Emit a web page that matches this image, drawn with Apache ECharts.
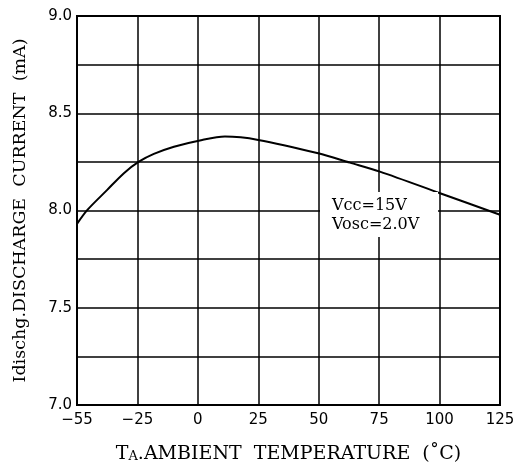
<!DOCTYPE html>
<html>
<head>
<meta charset="utf-8">
<script src="https://cdn.jsdelivr.net/npm/echarts@6/dist/echarts.min.js"></script>
<style>html,body{margin:0;padding:0;background:#fff}#c{width:518px;height:473px}</style>
</head>
<body>
<div id="c"></div>
<script>
// x positions in axis units (first grid division spans -55..-25 but is drawn as -50..-25)
var tempPos = [-50, -45.7, -37.5, -30.6, -24.4, -18.2, -9.9, 1.8, 11.2, 25, 49.8, 62.9, 75.3, 100.2, 125];
var currentMA = [7.931, 8.003, 8.106, 8.192, 8.251, 8.291, 8.328, 8.363, 8.380, 8.363, 8.294, 8.246, 8.200, 8.089, 7.978];
var xTickLabels = ['\u221255', '\u221225', '0', '25', '50', '75', '100', '125'];
var yTickLabels = ['7.0', '', '7.5', '', '8.0', '', '8.5', '', '9.0'];
var noteLines = ['Vcc=15V', 'Vosc=2.0V'];

var chart = echarts.init(document.getElementById('c'), null, {renderer: 'canvas'});
var pts = tempPos.map(function (x, i) { return [x, currentMA[i]]; });
chart.setOption({
  animation: false,
  backgroundColor: '#fff',
  grid: {left: 77, right: 18, top: 16, bottom: 68, show: true, borderColor: '#000', borderWidth: 2, backgroundColor: 'transparent'},
  xAxis: {
    type: 'value', min: -50, max: 125, interval: 25,
    axisLine: {show: false}, axisTick: {show: false},
    splitLine: {show: true, lineStyle: {color: '#000', width: 1.5}},
    axisLabel: {
      showMinLabel: true, showMaxLabel: true, margin: 8,
      fontFamily: 'DejaVu Sans', fontSize: 15, color: '#000',
      formatter: function (v) { return xTickLabels[Math.round((v + 50) / 25)]; }
    },
    name: 'T{s|A}.AMBIENT  TEMPERATURE  (\u02DAC)',
    nameLocation: 'middle', nameGap: 40,
    nameTextStyle: {fontFamily: 'DejaVu Serif', fontSize: 19, color: '#000',
      rich: {s: {fontFamily: 'DejaVu Serif', fontSize: 13, color: '#000', padding: [4, 0, 0, 0]}}}
  },
  yAxis: {
    type: 'value', min: 7, max: 9, interval: 0.25,
    axisLine: {show: false}, axisTick: {show: false},
    splitLine: {show: true, lineStyle: {color: '#000', width: 1.5}},
    axisLabel: {
      showMinLabel: true, showMaxLabel: true, margin: 5,
      fontFamily: 'DejaVu Sans', fontSize: 15, color: '#000',
      formatter: function (v) { return yTickLabels[Math.round((v - 7) / 0.25)]; }
    },
    name: 'Idischg.DISCHARGE  CURRENT  (mA)',
    nameLocation: 'middle', nameGap: 48,
    nameTextStyle: {fontFamily: 'DejaVu Serif', fontSize: 17.5, color: '#000'}
  },
  series: [{
    type: 'line', data: pts, smooth: 0.3, showSymbol: false,
    lineStyle: {color: '#000', width: 2}
  }],
  graphic: [{
    type: 'rect', shape: {x: 320, y: 192, width: 118, height: 45}, style: {fill: '#fff'}, z: 10
  }, {
    type: 'text', x: 332, y: 196, z: 11,
    style: {text: noteLines.join('\n'), fontFamily: 'DejaVu Serif', fontSize: 16, lineHeight: 19, fill: '#000'}
  }]
});
</script>
</body>
</html>
